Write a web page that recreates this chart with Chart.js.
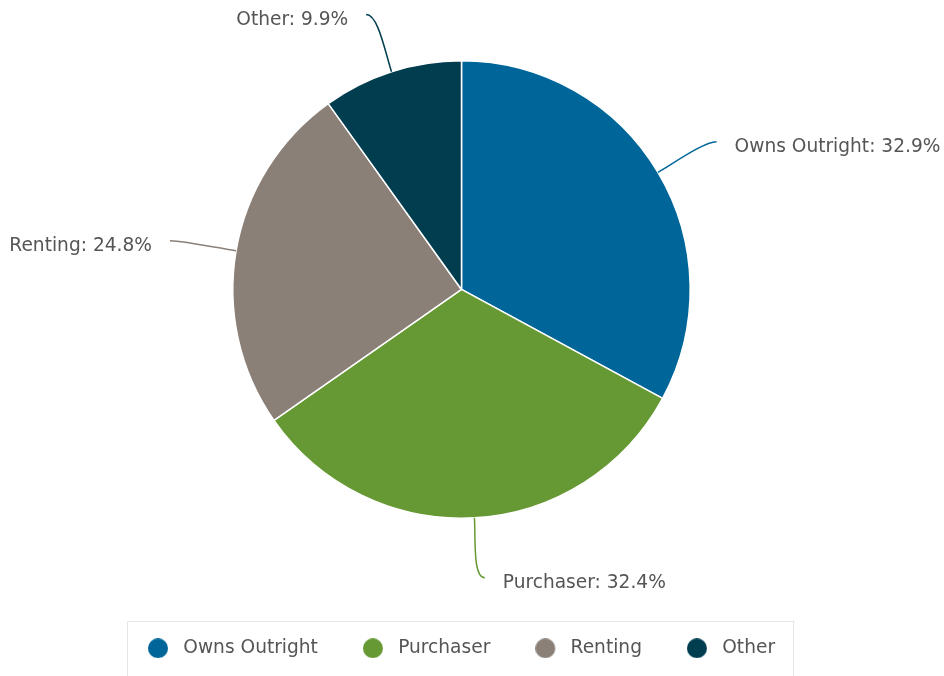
<!DOCTYPE html>
<html>
<head>
<meta charset="utf-8">
<script src="https://cdn.jsdelivr.net/npm/chart.js@4.4.1/dist/chart.umd.min.js"></script>
<style>
  html, body { margin: 0; padding: 0; background: #fff; }
  #wrap { position: relative; width: 944px; height: 676px; }
</style>
</head>
<body>
<div id="wrap"><canvas id="myChart"></canvas></div>
<script>
var labels = ['Owns Outright', 'Purchaser', 'Renting', 'Other'];
var shares = [32.9, 32.4, 24.8, 9.9];
var colors = ['#006699', '#669933', '#8b8078', '#003d4f'];

var textColor = '#555555';
var fontFamily = '"DejaVu Sans", sans-serif';
var fontSize = 18.6;

// round legend marker with some room on its right (pushes text away a bit)
function markerImage(color) {
    var c = document.createElement('canvas');
    c.width = 26;
    c.height = 20;
    var g = c.getContext('2d');
    g.fillStyle = color;
    g.beginPath();
    g.arc(10, 10, 10, 0, Math.PI * 2);
    g.fill();
    return c;
}
var markers = colors.map(markerImage);

// leader lines with "Name: x%" next to each slice
var pieLabels = {
    id: 'pieLabels',
    afterDatasetsDraw: function (chart) {
        var ctx = chart.ctx;
        var meta = chart.getDatasetMeta(0);
        ctx.save();
        ctx.font = fontSize + 'px ' + fontFamily;
        ctx.textBaseline = 'alphabetic';
        meta.data.forEach(function (arc, i) {
            var p = arc.getProps(['x', 'y', 'startAngle', 'endAngle', 'outerRadius'], true);
            var mid = (p.startAngle + p.endAngle) / 2;
            var cos = Math.cos(mid), sin = Math.sin(mid);
            var side = cos >= 0 ? 1 : -1;
            var ex = p.x + p.outerRadius * cos;
            var ey = p.y + p.outerRadius * sin;
            var r2 = p.outerRadius + 60;
            var tx = p.x + r2 * cos + side * 7;
            var ty = p.y + r2 * sin;
            ctx.beginPath();
            ctx.moveTo(ex, ey);
            ctx.bezierCurveTo(ex + cos * 22, ey + sin * 22, tx - side * 12, ty, tx, ty);
            ctx.strokeStyle = colors[i];
            ctx.lineWidth = 1.5;
            ctx.stroke();
            ctx.fillStyle = textColor;
            ctx.textAlign = side > 0 ? 'left' : 'right';
            ctx.fillText(labels[i] + ': ' + shares[i].toFixed(1) + '%', tx + side * 18, ty + 10);
        });
        ctx.restore();
    }
};

// push the legend down to the bottom and frame it
var legendBox = {
    id: 'legendBox',
    afterLayout: function (chart) {
        var lg = chart.legend;
        var pad = lg.options.labels.padding;
        var shift = 649 - (lg.top + pad + 10);
        lg.top += shift;
        lg.bottom += shift;
    },
    afterDraw: function (chart) {
        var boxes = chart.legend.legendHitBoxes;
        if (!boxes.length) return;
        var first = boxes[0], last = boxes[boxes.length - 1];
        var left = Math.round(first.left - 21);
        var right = Math.round(last.left + last.width + 18);
        var ctx = chart.ctx;
        ctx.save();
        ctx.strokeStyle = '#e6e6e6';
        ctx.lineWidth = 1;
        ctx.strokeRect(left + 0.5, 621.5, right - left, 80);
        ctx.restore();
    }
};

var myChart = new Chart(document.getElementById('myChart').getContext('2d'), {
    type: 'pie',
    data: {
        labels: labels,
        datasets: [{
            data: shares,
            backgroundColor: colors,
            borderColor: '#ffffff',
            borderWidth: 1.5
        }]
    },
    options: {
        responsive: true,
        maintainAspectRatio: false,
        animation: false,
        layout: {
            padding: { top: 60, left: 0, right: 21, bottom: 83.5 }
        },
        plugins: {
            legend: {
                position: 'bottom',
                labels: {
                    usePointStyle: true,
                    pointStyleWidth: 26,
                    boxHeight: 20,
                    padding: 45,
                    color: textColor,
                    font: { size: fontSize, family: fontFamily },
                    generateLabels: function (chart) {
                        return chart.data.labels.map(function (label, i) {
                            return {
                                text: label,
                                fillStyle: colors[i],
                                strokeStyle: colors[i],
                                lineWidth: 0,
                                fontColor: textColor,
                                pointStyle: markers[i],
                                hidden: !chart.getDataVisibility(i),
                                index: i
                            };
                        });
                    }
                }
            },
            tooltip: { enabled: false }
        }
    },
    plugins: [pieLabels, legendBox]
});
</script>
</body>
</html>
